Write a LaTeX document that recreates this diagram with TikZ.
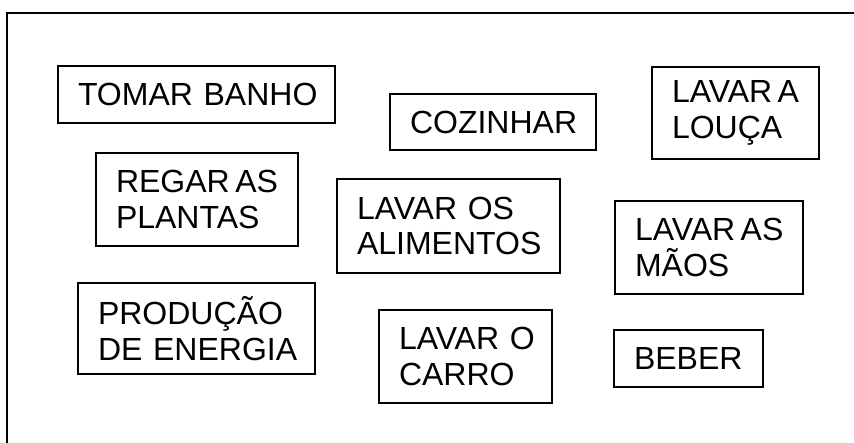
\documentclass[tikz,border=0pt]{standalone}
\usepackage{fontspec}
\setmainfont{Liberation Sans}
\newcommand\tightgap{\hspace{5.5pt}}
\begin{document}
\begin{tikzpicture}[x=1pt,y=-1pt,
  frame/.style={draw=black,line width=2.3pt},
  wordbox/.style={draw=black,line width=1.3pt,anchor=north west,align=left,
    font=\fontsize{32}{35.5}\selectfont,inner xsep=20pt,inner ysep=0pt,outer sep=0pt}]
\useasboundingbox (0,0) rectangle (854,443);
\draw[frame] (7,443) -- (7,13) -- (854,13);
\node[wordbox,text width=237pt,minimum height=57pt] (tomar) at (58,66) {\mbox{TOMAR BANHO}};
\node[wordbox,text width=166pt,minimum height=56pt] (cozinhar) at (390,94) {\mbox{COZINHAR}};
\node[wordbox,text width=127pt,minimum height=92pt] (louca) at (652,67) {\mbox{LAVAR\tightgap A}\\\mbox{LOUÇA}};
\node[wordbox,text width=162pt,minimum height=93pt] (regar) at (96,153) {\mbox{REGAR\tightgap AS}\\\mbox{PLANTAS}};
\node[wordbox,text width=183pt,minimum height=94pt] (alimentos) at (337,179) {\mbox{LAVAR OS}\\\mbox{ALIMENTOS}};
\node[wordbox,text width=148pt,minimum height=93pt] (maos) at (615,201) {\mbox{LAVAR\tightgap AS}\\\mbox{MÃOS}};
\node[wordbox,text width=197pt,minimum height=91pt] (producao) at (78,283) {\mbox{PRODUÇÃO}\\\mbox{DE ENERGIA}};
\node[wordbox,text width=133pt,minimum height=93pt] (carro) at (379,310) {\mbox{LAVAR O}\\\mbox{CARRO}};
\node[wordbox,text width=109pt,minimum height=57pt] (beber) at (614,330) {\mbox{BEBER}};
\end{tikzpicture}
\end{document}
